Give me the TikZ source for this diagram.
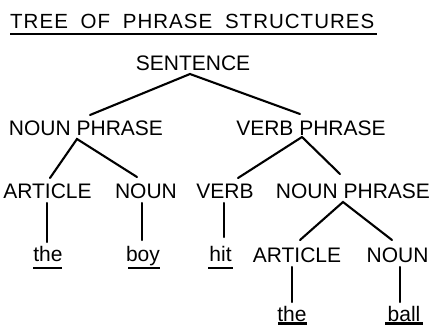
\documentclass[tikz,border=0pt]{standalone}
\usepackage{fontspec}
\setmainfont{Liberation Sans}
\begin{document}
\begin{tikzpicture}[x=1pt,y=-1pt,
  lab/.style={anchor=base,inner sep=0pt,font=\fontsize{21}{24}\selectfont},
  word/.style={anchor=base,inner sep=0pt,font=\fontsize{21}{24}\selectfont},
  edge/.style={line width=2.1pt,line cap=round},
  uline/.style={line width=2.4pt},
  tline/.style={line width=1.6pt}]
\useasboundingbox (0,0) rectangle (430,325);
% title
\node[anchor=base west,inner sep=0pt,font=\fontsize{20.5}{24}\selectfont\addfontfeatures{LetterSpace=5}] (title) at (10,28) {TREE\hspace{6pt} OF\hspace{6pt} PHRASE\hspace{6pt} STRUCTURES};
\draw[tline] (10,34) -- (377,34);
% nodes
\node[lab] (s) at (193,70) {SENTENCE};
\node[lab] (np1) at (86,135) {NOUN PHRASE};
\node[lab] (vp) at (311,135) {VERB PHRASE};
\node[lab] (art1) at (47.5,198) {ARTICLE};
\node[lab] (n1) at (146,198) {NOUN};
\node[lab] (v) at (225,198) {VERB};
\node[lab] (np2) at (353,198) {NOUN PHRASE};
\node[word] (the1) at (48,261) {the};
\node[word] (boy) at (143,261) {boy};
\node[word] (hit) at (220.5,261) {hit};
\node[lab] (art2) at (297,262) {ARTICLE};
\node[lab] (n2) at (397.5,262) {NOUN};
\node[word] (the2) at (292,321) {the};
\node[word] (ball) at (404,321) {ball};
% connector end points
\coordinate (sA) at (190,74);
\coordinate (np1T) at (90,115);
\coordinate (vpT) at (300,114);
\coordinate (np1A) at (77,139);
\coordinate (art1T) at (50,178);
\coordinate (n1T) at (137,177);
\coordinate (vpA) at (302,137);
\coordinate (vT) at (238,178);
\coordinate (np2T) at (340,174);
\coordinate (np2A) at (343,202);
\coordinate (art2T) at (300,240);
\coordinate (n2T) at (392,240);
\draw[edge] (np1T) -- (sA) -- (vpT);
\draw[edge] (art1T) -- (np1A) -- (n1T);
\draw[edge] (vT) -- (vpA) -- (np2T);
\draw[edge] (art2T) -- (np2A) -- (n2T);
% verticals
\draw[edge] (47,203) -- (47,242);
\draw[edge] (142,203) -- (142,240);
\draw[edge] (224,203) -- (224,237);
\draw[edge] (292,267) -- (292,302);
\draw[edge] (400,267) -- (400,302);
% underlines
\draw[uline] (33,268) -- (62,268);
\draw[uline] (128,268) -- (160,268);
\draw[uline] (208,268) -- (233,268);
\draw[uline] (278,323.5) -- (307,323.5);
\draw[uline] (385,323.5) -- (423,323.5);
\end{tikzpicture}
\end{document}
